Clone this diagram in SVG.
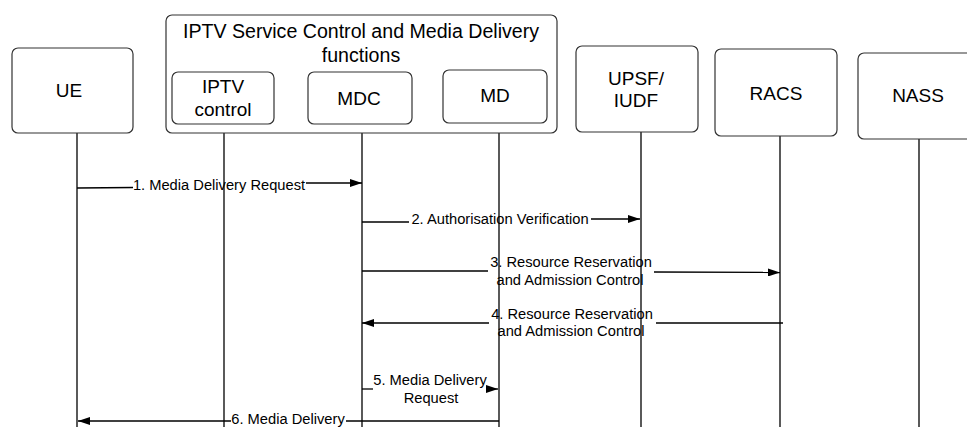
<svg xmlns="http://www.w3.org/2000/svg" width="967" height="427" viewBox="0 0 967 427">
<style>
.box{fill:#fff;stroke:#333;stroke-width:1.2}
.life{stroke:#000;stroke-width:1.3;fill:none}
.msg{stroke:#000;stroke-width:1.3;fill:none}
.lbl{font-family:"Liberation Sans",Arial,sans-serif;font-size:19px;fill:#000;text-anchor:middle}
.ttl{font-size:19.6px}
.m{font-family:"Liberation Sans",Arial,sans-serif;font-size:14.7px;fill:#000;text-anchor:middle}
</style>
<defs>
<marker id="ah" markerUnits="userSpaceOnUse" markerWidth="13" markerHeight="8" refX="12" refY="4" orient="auto">
<path d="M0,0 L12,4 L0,8 Z" fill="#000"/>
</marker>
</defs>
<rect width="967" height="427" fill="#fff"/>
<g id="lifelines">
<line class="life" x1="77" y1="133" x2="77" y2="427"/>
<line class="life" x1="224" y1="133" x2="224" y2="427"/>
<line class="life" x1="362" y1="133" x2="362" y2="427"/>
<line class="life" x1="499" y1="133" x2="499" y2="427"/>
<line class="life" x1="641" y1="132" x2="641" y2="427"/>
<line class="life" x1="780" y1="136" x2="780" y2="427"/>
<line class="life" x1="919" y1="139" x2="919" y2="427"/>
</g>
<g id="UE">
<rect class="box" x="12" y="48" width="121" height="85" rx="6"/>
<text class="lbl" x="69" y="97">UE</text>
</g>
<g id="IPTV-SC-MD">
<rect class="box" x="166" y="15" width="391" height="118" rx="6"/>
<text class="lbl ttl" x="361" y="38">IPTV Service Control and Media Delivery</text>
<text class="lbl ttl" x="361" y="62">functions</text>
</g>
<g id="IPTV-control">
<rect class="box" x="172" y="72" width="102" height="52" rx="6"/>
<text class="lbl" x="223" y="93">IPTV</text>
<text class="lbl" x="223" y="116">control</text>
</g>
<g id="MDC">
<rect class="box" x="308" y="72" width="104" height="52" rx="6"/>
<text class="lbl" x="359" y="105">MDC</text>
</g>
<g id="MD">
<rect class="box" x="443" y="70" width="104" height="53" rx="6"/>
<text class="lbl" x="495" y="102">MD</text>
</g>
<g id="UPSF">
<rect class="box" x="576" y="46" width="122" height="86" rx="6"/>
<text class="lbl" x="636" y="85">UPSF/</text>
<text class="lbl" x="636" y="107">IUDF</text>
</g>
<g id="RACS">
<rect class="box" x="715" y="49" width="122" height="87" rx="6"/>
<text class="lbl" x="776" y="100">RACS</text>
</g>
<g id="NASS">
<rect class="box" x="858" y="53" width="122" height="86" rx="6"/>
<text class="lbl" x="918" y="102">NASS</text>
</g>
<g id="connectors">
<path class="msg" d="M77,188 L133,187.5"/>
<path class="msg" d="M306,183 L362,183" marker-end="url(#ah)"/>
<text class="m" x="219" y="190">1. Media Delivery Request</text>

<path class="msg" d="M362,222 L409,222"/>
<path class="msg" d="M591,219 L640,219" marker-end="url(#ah)"/>
<text class="m" x="500" y="224">2. Authorisation Verification</text>

<path class="msg" d="M362,271 L488,271"/>
<path class="msg" d="M654,272 L780,272.5" marker-end="url(#ah)"/>
<text class="m" x="571" y="267">3. Resource Reservation</text>
<text class="m" x="570" y="285">and Admission Control</text>

<path class="msg" d="M783,323 L656,323"/>
<path class="msg" d="M489,323 L362,323" marker-end="url(#ah)"/>
<text class="m" x="572" y="319">4. Resource Reservation</text>
<text class="m" x="571" y="336">and Admission Control</text>

<path class="msg" d="M362,389 L373,389"/>
<path class="msg" d="M486,389 L498,389" marker-end="url(#ah)"/>
<text class="m" x="430" y="385">5. Media Delivery</text>
<text class="m" x="431" y="403">Request</text>

<path class="msg" d="M499,421 L346,421"/>
<path class="msg" d="M231,421 L78,421" marker-end="url(#ah)"/>
<text class="m" x="288" y="424">6. Media Delivery</text>
</g>
</svg>
